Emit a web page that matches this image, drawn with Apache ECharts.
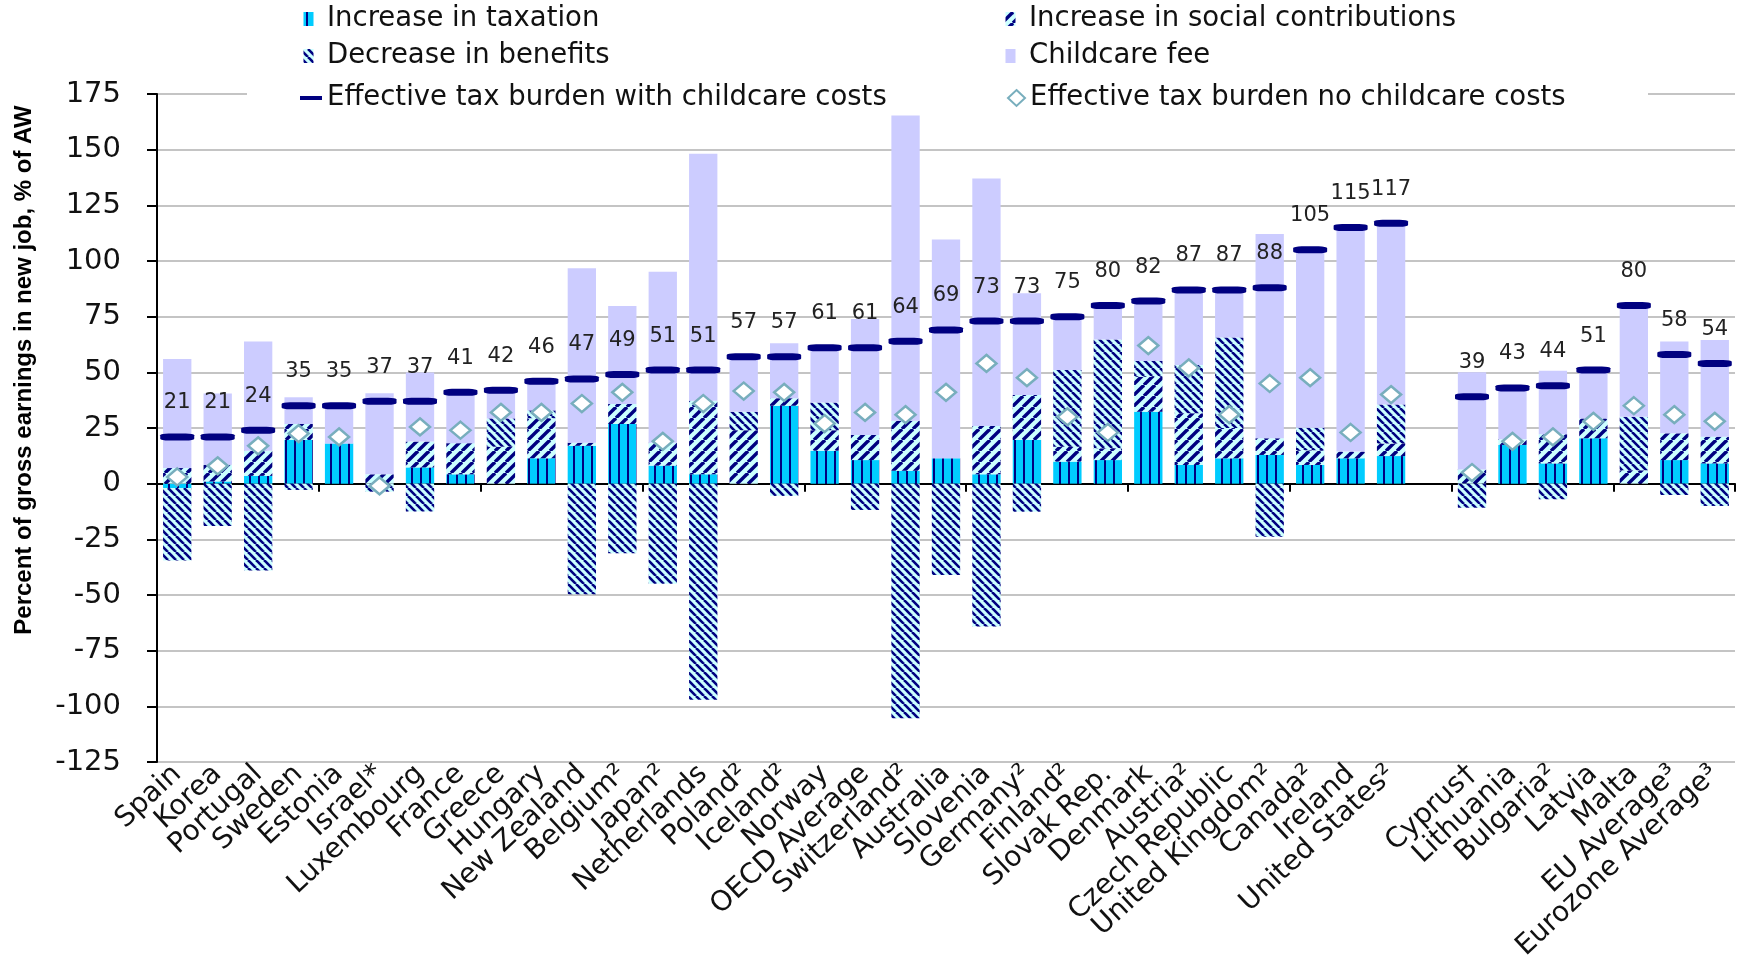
<!DOCTYPE html>
<html>
<head>
<meta charset="utf-8">
<title>Effective tax burden on entering work with childcare</title>
<script src="https://cdn.jsdelivr.net/npm/echarts@6/dist/echarts.min.js"></script>
<style>
  html, body { margin: 0; padding: 0; background: #fff; }
  #chart { width: 1746px; height: 958px; }
</style>
</head>
<body>
<div id="chart"></div>
<script>
// Country groups (blank entry separates OECD members from the EU-only group)
const categories = [
  'Spain', 'Korea', 'Portugal', 'Sweden', 'Estonia', 'Israel*', 'Luxembourg', 'France',
  'Greece', 'Hungary', 'New Zealand', 'Belgium\u00b2', 'Japan\u00b2', 'Netherlands',
  'Poland\u00b2', 'Iceland\u00b2', 'Norway', 'OECD Average', 'Switzerland\u00b2', 'Australia',
  'Slovenia', 'Germany\u00b2', 'Finland\u00b2', 'Slovak Rep.', 'Denmark', 'Austria\u00b2',
  'Czech Republic', 'United Kingdom\u00b2', 'Canada\u00b2', 'Ireland', 'United States\u00b2', '',
  'Cyprus\u2020', 'Lithuania', 'Bulgaria\u00b2', 'Latvia', 'Malta', 'EU Average\u00b3',
  'Eurozone Average\u00b3'
];

// Components of the effective tax burden, % of average wage
const taxation = [
  -2, 1, 3.5, 19.6, 18, 0, 7.3, 4.2, 0, 11.4, 17, 26.8, 8.1, 4.2,
  0, 35, 14.8, 10.6, 5.8, 11.4, 4.2, 19.6, 9.9, 10.6, 32.3, 8.4,
  11.4, 12.9, 8.4, 11.4, 12.4, null,
  0, 17.4, 9.1, 20.4, 0, 10.6, 9.1
];
const socialContributions = [
  7, 7.5, 11.3, 7.2, 0, 4.2, 11.6, 14, 16.6, 18, 1.4, 9, 10.3, 33,
  24, 3.4, 9.2, 11.3, 22.5, 0, 21.7, 20.2, 6.7, 5.3, 15.7, 23.2,
  13.6, 7.5, 6.6, 3, 5.6, null,
  6.4, 2.5, 13.1, 8.9, 6, 12, 12
];
const benefitDecrease = [
  -32.5, -19, -39, -2.8, 0, -3.6, -12.5, 0, 12.7, 3.5, -49.7, -31.3, -45, -97,
  8.3, -5.5, 12.4, -11.8, -105.4, -41, -64.2, -12.6, 34.4, 48.9, 7.1, 21.7,
  40.6, -23.8, 10.1, 0, 17.6, null,
  -10.8, 0, -7, 0, 24.1, -5.1, -10
];
const childcareFee = [
  49, 32, 49, 12, 17, 36.4, 31, 22.5, 14, 13, 78.3, 44, 76.8, 111,
  24.7, 24.7, 24.5, 52, 137, 98.3, 111.2, 45.7, 24, 15.2, 27, 33,
  21, 91.7, 79.9, 100.6, 81.4, null,
  43.6, 23.1, 28.5, 21.7, 49.9, 41.2, 43.4
];

// Effective tax burden, % of average wage
const burdenWithChildcare = [
  21, 21, 24, 35, 35, 37, 37, 41, 42, 46, 47, 49, 51, 51,
  57, 57, 61, 61, 64, 69, 73, 73, 75, 80, 82, 87,
  87, 88, 105, 115, 117, null,
  39, 43, 44, 51, 80, 58, 54
];
const burdenNoChildcare = [
  3, 8, 17, 22.5, 21, -1, 25.5, 24, 32, 32, 36, 41, 19, 36,
  41.6, 41, 27, 32, 31, 41, 54, 47.6, 30, 23, 62, 52,
  31, 45, 47.6, 23, 40, null,
  5, 19, 21, 28, 35, 31, 28
];

const yMin = -125, yMax = 175, yStep = 25;

const NAVY = '#000080';
const FONT = '"DejaVu Sans", "Liberation Sans", Arial, sans-serif';

// Hatch fills drawn on small tiles and repeated across the bars
function tile(size, bg, paint) {
  const c = document.createElement('canvas');
  c.width = size; c.height = size;
  const g = c.getContext('2d');
  g.fillStyle = bg;
  g.fillRect(0, 0, size, size);
  paint(g, size);
  return { image: c, repeat: 'repeat' };
}
const taxFill = tile(9, '#00CCFF', (g, s) => {
  g.fillStyle = NAVY;
  g.fillRect(6, 0, 2, s);
});
const sscFill = tile(11, '#CCFFFF', (g, s) => {
  g.strokeStyle = NAVY;
  g.lineWidth = 3.4;
  for (let o = -s; o <= s; o += s) {
    g.beginPath(); g.moveTo(o, s); g.lineTo(o + s, 0); g.stroke();
  }
});
const benefitFill = tile(8, '#CCFFFF', (g, s) => {
  g.strokeStyle = NAVY;
  g.lineWidth = 2.6;
  for (let o = -s; o <= s; o += s) {
    g.beginPath(); g.moveTo(o, 0); g.lineTo(o + s, s); g.stroke();
  }
});

// Legend box icon: a narrow swatch inside a wider slot
const swatchIcon = 'path://M0,0h0.01v0.01h-0.01z M3.5,0h10v14h-10z M21.99,13.99h0.01v0.01h-0.01z';

const legendText = { fontFamily: FONT, fontSize: 27.5, color: '#111' };

const chart = echarts.init(document.getElementById('chart'), null, { renderer: 'canvas' });

chart.setOption({
  animation: false,
  backgroundColor: '#fff',
  grid: {
    left: 157, right: 11, top: 94, bottom: 196,
    containLabel: false, outerBoundsMode: 'none'
  },
  legend: [
    {
      data: ['Increase in taxation', 'Decrease in benefits'],
      orient: 'vertical', left: 300, top: 5, padding: 0,
      itemWidth: 22, itemHeight: 14, itemGap: 9, icon: swatchIcon,
      selectedMode: false, textStyle: legendText
    },
    {
      data: ['Increase in social contributions', 'Childcare fee'],
      orient: 'vertical', left: 1002, top: 5, padding: 0,
      itemWidth: 22, itemHeight: 14, itemGap: 9, icon: swatchIcon,
      selectedMode: false, textStyle: legendText
    },
    {
      data: ['Effective tax burden with childcare costs'],
      left: 300, top: 84, padding: 0,
      itemWidth: 22, itemHeight: 4, icon: 'rect',
      selectedMode: false, textStyle: legendText
    },
    {
      data: ['Effective tax burden no childcare costs'],
      left: 1007, top: 84, padding: 0,
      itemWidth: 17, itemHeight: 16, icon: 'diamond',
      selectedMode: false, textStyle: legendText
    }
  ],
  graphic: [
    {
      type: 'rect', z: 1, silent: true,
      shape: { x: 247, y: 86, width: 1401, height: 16 },
      style: { fill: '#fff' }
    },
    {
      type: 'text', x: 24, y: 370, rotation: Math.PI / 2, silent: true,
      style: {
        text: 'Percent of gross earnings in new job, % of AW',
        fontFamily: '"Liberation Sans", Arial, sans-serif',
        fontSize: 24, fontWeight: 'bold', fill: '#000',
        align: 'center', verticalAlign: 'middle'
      }
    }
  ],
  xAxis: [
    {
      type: 'category', data: categories, position: 'bottom',
      axisLine: { show: true, onZero: true, lineStyle: { color: '#000', width: 2 } },
      axisTick: { show: true, length: 8, lineStyle: { color: '#000', width: 2 } },
      axisLabel: { show: false },
      splitLine: { show: false }
    },
    {
      type: 'category', data: categories, position: 'bottom',
      axisLine: { show: false, onZero: false },
      axisTick: { show: false },
      axisLabel: {
        show: true, interval: 0, rotate: 43, margin: 8,
        fontFamily: FONT, fontSize: 28, color: '#111'
      },
      splitLine: { show: false }
    }
  ],
  yAxis: {
    type: 'value', min: yMin, max: yMax, interval: yStep,
    axisLine: { show: true, lineStyle: { color: '#000', width: 2 } },
    axisTick: { show: true, length: 10, lineStyle: { color: '#000', width: 2 } },
    axisLabel: { margin: 36, fontFamily: FONT, fontSize: 29, color: '#111' },
    splitLine: { show: true, lineStyle: { color: '#C4C4C4', width: 2 } }
  },
  series: [
    {
      name: 'Increase in taxation', type: 'bar', stack: 'burden',
      barWidth: '70%', data: taxation, itemStyle: { color: taxFill }
    },
    {
      name: 'Increase in social contributions', type: 'bar', stack: 'burden',
      barWidth: '70%', data: socialContributions, itemStyle: { color: sscFill }
    },
    {
      name: 'Decrease in benefits', type: 'bar', stack: 'burden',
      barWidth: '70%', data: benefitDecrease, itemStyle: { color: benefitFill }
    },
    {
      name: 'Childcare fee', type: 'bar', stack: 'burden',
      barWidth: '70%', data: childcareFee, itemStyle: { color: '#CCCCFF' }
    },
    {
      name: 'Effective tax burden no childcare costs', type: 'scatter',
      symbol: 'diamond', symbolSize: [20, 17], z: 4,
      data: burdenNoChildcare,
      itemStyle: { color: '#fff', borderColor: '#78AEBD', borderWidth: 2.5, opacity: 1 }
    },
    {
      name: 'Effective tax burden with childcare costs', type: 'scatter',
      symbol: 'roundRect', symbolSize: [34, 7], z: 5,
      data: burdenWithChildcare,
      itemStyle: { color: NAVY, opacity: 1 },
      label: {
        show: true, position: 'top', distance: 20,
        fontFamily: FONT, fontSize: 21, color: '#222',
        formatter: p => p.value
      }
    }
  ]
});
</script>
</body>
</html>
